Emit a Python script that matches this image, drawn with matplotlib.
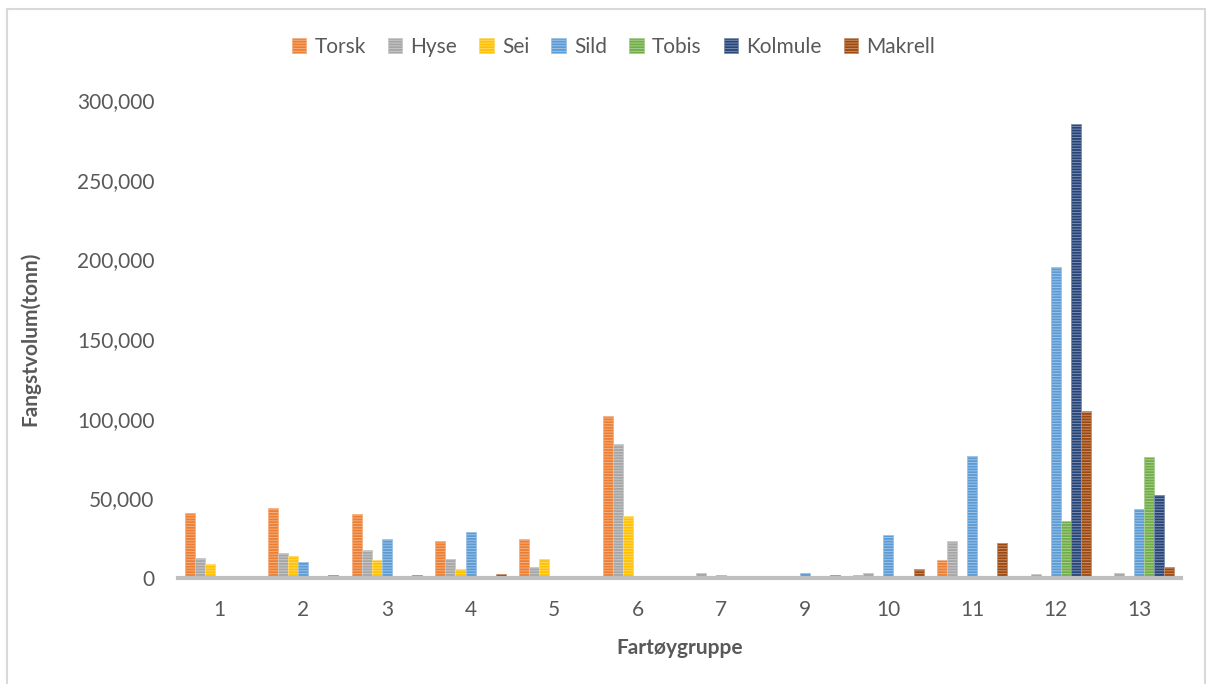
import numpy as np
import matplotlib
matplotlib.use("Agg")
import matplotlib.pyplot as plt
from matplotlib.patches import Rectangle, Patch
from matplotlib.ticker import FuncFormatter
from matplotlib.colors import to_rgb

# Vessel groups on the x axis
categories = ['1', '2', '3', '4', '5', '6', '7', '9', '10', '11', '12', '13']

# Catch volume (tonnes) per species and vessel group
torsk = [41000, 43900, 40200, 23000, 24300, 101500, 1000, 0, 2000, 11300, 0, 0]
hyse = [12400, 15700, 17600, 11700, 6700, 83900, 3300, 0, 3300, 23200, 2700, 2900]
sei = [8600, 13600, 11300, 5800, 12100, 38700, 0, 0, 0, 500, 0, 0]
sild = [0, 10000, 24500, 28900, 0, 0, 2000, 3300, 27000, 76600, 195400, 43500]
tobis = [0, 0, 0, 0, 0, 0, 0, 0, 0, 0, 36000, 76100]
kolmule = [0, 0, 0, 0, 0, 0, 0, 0, 0, 0, 284700, 52100]
makrell = [0, 1800, 1800, 2700, 0, 0, 0, 2000, 5800, 22000, 105000, 7100]

series_names = ['Torsk', 'Hyse', 'Sei', 'Sild', 'Tobis', 'Kolmule', 'Makrell']
series_values = [torsk, hyse, sei, sild, tobis, kolmule, makrell]
colors = ['#ED7D31', '#A5A5A5', '#FFC000', '#5B9BD5', '#70AD47', '#264478', '#9E480E']

plt.rcParams['font.family'] = ['Lato', 'DejaVu Sans']
plt.rcParams['hatch.linewidth'] = 0.7
text_color = '#595959'


def light(c, f=0.4):
    r, g, b = to_rgb(c)
    return (r + (1 - r) * f, g + (1 - g) * f, b + (1 - b) * f)


fig = plt.figure(figsize=(12.06, 6.84), dpi=100)
ax = fig.add_axes([178 / 1206, 1 - 578 / 684, (1181 - 178) / 1206, (578 - 100) / 684])

x = np.arange(len(categories))
width = 0.12
n = len(series_names)
for i, (name, vals, col) in enumerate(zip(series_names, series_values, colors)):
    offs = (i - (n - 1) / 2) * width
    ax.bar(x + offs, vals, width=width, color=col, edgecolor=light(col),
           linewidth=0.6, hatch='------', label=name, zorder=2)

ax.set_xlim(-0.5, len(categories) - 0.5)
ax.set_ylim(0, 300000)
ax.set_yticks(np.arange(0, 300001, 50000))
ax.yaxis.set_major_formatter(FuncFormatter(lambda v, p: f"{int(v):,}"))
ax.set_xticks(x)
ax.set_xticklabels(categories)

for s in ['top', 'right', 'left']:
    ax.spines[s].set_visible(False)
ax.spines['bottom'].set_color('#BFBFBF')
ax.spines['bottom'].set_linewidth(3)
ax.spines['bottom'].set_zorder(3)

ax.tick_params(axis='both', length=0, labelsize=15, labelcolor=text_color)
ax.tick_params(axis='y', pad=17)
ax.tick_params(axis='x', pad=16)

ax.set_xlabel('Fartøygruppe', fontsize=15, fontweight='bold', color=text_color, labelpad=13)
ax.set_ylabel('Fangstvolum(tonn)', fontsize=15, fontweight='bold', color=text_color, labelpad=26)

handles = [Patch(facecolor=c, edgecolor=light(c), linewidth=0.6, hatch='------') for c in colors]
fig.legend(handles, series_names, loc='center', bbox_to_anchor=(613.5 / 1206, 1 - 47 / 684),
           ncol=7, frameon=False, fontsize=15, labelcolor=text_color,
           handlelength=0.7, handleheight=0.7, handletextpad=0.4, columnspacing=1.05)

# light frame around the chart
fig.patches.append(Rectangle((7 / 1206, -0.05), (1205 - 7) / 1206, 1.05 - 9 / 684,
                             transform=fig.transFigure, fill=False,
                             edgecolor='#D9D9D9', linewidth=1.5))

fig.savefig('out.png', dpi=100, facecolor='white')
